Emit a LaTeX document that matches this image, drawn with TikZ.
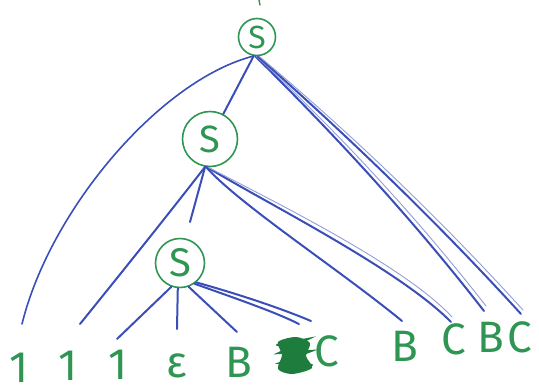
\documentclass[tikz,border=0pt]{standalone}
\usepackage{fontspec}
\setmainfont{Fira Sans}
\definecolor{pengreen}{RGB}{46,150,82}
\definecolor{scribble}{RGB}{30,125,60}
\definecolor{inkblue}{RGB}{58,78,184}
\begin{document}
\begin{tikzpicture}[x=1pt,y=-1pt,
  ink/.style={draw=inkblue, line width=2pt, line cap=round},
  faint/.style={draw=inkblue!55, line width=0.9pt, line cap=round},
  snode/.style={circle, draw=pengreen, line width=1.6pt, inner sep=0pt,
                text=pengreen},
  leaf/.style={text=pengreen, font=\fontsize{44}{44}\selectfont,
               inner sep=0pt, anchor=base}]
\useasboundingbox (0,0) rectangle (539,389);

% the three S nodes
\node[snode, minimum size=37pt, font=\fontsize{32}{32}\selectfont] (top) at (257,37) {S};
\node[snode, minimum size=55pt, font=\fontsize{38}{38}\selectfont] (mid) at (210,139) {S};
\node[snode, minimum size=49pt, font=\fontsize{40}{40}\selectfont] (low) at (180,263) {S};
\draw[pengreen, line width=1.4pt, line cap=round] (259,0) -- (260,5);

% leaves
\node[leaf] (l1) at (19,382) {1};
\node[leaf] (l2) at (68,380) {1};
\node[leaf] (l3) at (118,379) {1};
\node[leaf] (eps) at (177,377) {ε};
\node[leaf] (b1) at (239,377) {B};
\node[leaf] (c1) at (327,366) {C};
\node[leaf] (b2) at (405,361) {B};
\node[leaf] (c2) at (454,354) {C};
\node[leaf] (b3) at (491,352) {B};
\node[leaf] (c3) at (520,352) {C};

% crossed-out letter
\fill[scribble] plot[smooth cycle] coordinates
  {(278,342) (296,337) (310,343) (306,356) (312,368) (292,374) (278,369) (282,355)};
\draw[scribble, line width=2.2pt, line cap=round]
  (277,345) -- (308,339) -- (279,353) -- (311,351) -- (280,363) -- (312,365);

% free ends of the connectors
\coordinate (e1) at (22,324);
\coordinate (e2) at (80,324);
\coordinate (stub) at (190,222);
\coordinate (e3) at (117,339);
\coordinate (e4) at (177,329);
\coordinate (e5) at (237,332);
\coordinate (e6) at (299,324);
\coordinate (e7) at (311,321);
\coordinate (e8) at (402,321);
\coordinate (e9) at (451,322);
\coordinate (e10) at (484,311);
\coordinate (e11) at (521,314);

% from the top S
\draw[ink, line width=1.6pt] (top.-100) .. controls (160,80) and (50,210) .. (e1);
\draw[ink] (top.-100) -- (mid.62);
\draw[ink] (top.-95) .. controls (338,138) and (415,222) .. (e10);
\draw[faint] (top.-92) .. controls (342,136) and (419,220) .. (486,306);
\draw[ink] (top.-88) .. controls (351,139) and (439,224) .. (e11);
\draw[faint] (top.-84) .. controls (355,137) and (443,222) .. (523,310);

% from the middle S
\draw[ink] (mid.-100) .. controls (163,221) and (122,272) .. (e2);
\draw[ink] (mid.-100) -- (stub);
\draw[ink] (mid.-98) .. controls (240,205) and (340,270) .. (e8);
\draw[ink] (mid.-96) .. controls (270,205) and (400,270) .. (e9);
\draw[faint] (mid.-94) .. controls (275,202) and (405,266) .. (452,317);

% from the lower S
\draw[ink] (low.-110) -- (e3);
\draw[ink] (low.-95) -- (e4);
\draw[ink] (low.-70) -- (e5);
\draw[ink] (low.-55) .. controls (240,300) and (275,312) .. (e6);
\draw[ink] (low.-50) .. controls (245,296) and (285,310) .. (e7);
\end{tikzpicture}
\end{document}
